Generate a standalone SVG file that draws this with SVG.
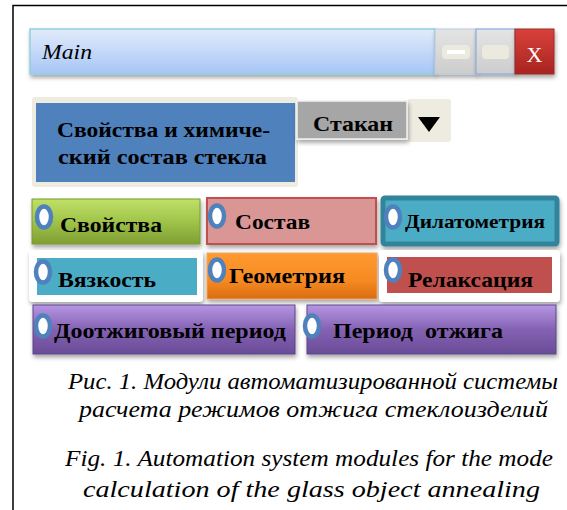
<svg xmlns="http://www.w3.org/2000/svg" width="567" height="510" viewBox="0 0 567 510">
<defs>
<style>
.lbl{font-family:"Liberation Serif","DejaVu Serif","Times New Roman",serif;font-weight:bold;fill:#000;}
.cap{font-family:"Liberation Serif","DejaVu Serif","Times New Roman",serif;font-style:italic;font-size:24px;fill:#000;}
.dot{fill:#fff;stroke:#4f81bd;stroke-width:4.5;}
</style>
<filter id="sh" x="-10%" y="-20%" width="125%" height="160%">
<feDropShadow dx="1" dy="3" stdDeviation="2" flood-color="#000" flood-opacity="0.35"/>
</filter>
<linearGradient id="gBar" x1="0" y1="0" x2="0" y2="1"><stop offset="0" stop-color="#e2ebfb"/><stop offset="1" stop-color="#a6c6f6"/></linearGradient>
<linearGradient id="gGrey" x1="0" y1="0" x2="0" y2="1"><stop offset="0" stop-color="#e4e4e4"/><stop offset="1" stop-color="#cdcdcd"/></linearGradient>
<linearGradient id="gRed" x1="0" y1="0" x2="0" y2="1"><stop offset="0" stop-color="#d9413b"/><stop offset="1" stop-color="#a82420"/></linearGradient>
<linearGradient id="gGreen" x1="0" y1="0" x2="0" y2="1"><stop offset="0" stop-color="#c0e068"/><stop offset="0.5" stop-color="#a0c44a"/><stop offset="1" stop-color="#7f9f33"/></linearGradient>
<linearGradient id="gOrange" x1="0" y1="0" x2="0" y2="1"><stop offset="0" stop-color="#ff9a30"/><stop offset="0.6" stop-color="#f68a22"/><stop offset="1" stop-color="#d96c10"/></linearGradient>
<linearGradient id="gPurple" x1="0" y1="0" x2="0" y2="1"><stop offset="0" stop-color="#b595e4"/><stop offset="0.5" stop-color="#8462b3"/><stop offset="1" stop-color="#6a4c97"/></linearGradient>
</defs>
<rect width="567" height="510" fill="#fff"/>
<g id="frame" fill="none" stroke="#000" stroke-width="1.5">
<path d="M13,510 V5.5 H567"/>
</g>
<g id="titlebar">
<rect x="30" y="29" width="405" height="45" fill="url(#gBar)" stroke="#93d0dc" stroke-width="1.5" filter="url(#sh)"/>
<text x="42" y="59" font-family="Liberation Serif, DejaVu Serif, serif" font-style="italic" font-size="22" fill="#000" textLength="50" lengthAdjust="spacingAndGlyphs">Main</text>
<rect x="435" y="29" width="41" height="45" fill="url(#gGrey)" stroke="#b7c9e2" stroke-width="1" filter="url(#sh)"/>
<rect x="442" y="45" width="28" height="14" rx="4" fill="#ece9df"/>
<rect x="447" y="50" width="18" height="4" fill="#fff"/>
<rect x="476" y="29" width="39" height="45" fill="url(#gGrey)" stroke="#8aaee0" stroke-width="1.2" filter="url(#sh)"/>
<rect x="482" y="45" width="27" height="14" rx="4" fill="#ece9df"/>
<rect x="515" y="29" width="39" height="45" fill="url(#gRed)" stroke="#9e2a26" stroke-width="1" filter="url(#sh)"/>
<text x="534.5" y="62" font-family="Liberation Serif, DejaVu Serif, serif" font-size="22" fill="#fff" text-anchor="middle">X</text>
</g>
<g id="glass-props">
<rect x="32" y="97" width="266" height="90" rx="3" fill="#eeece1"/>
<rect x="36" y="103" width="259" height="79" fill="#4f81bd"/>
<text class="lbl" font-size="22" x="57" y="137" textLength="213" lengthAdjust="spacingAndGlyphs">Свойства и химиче-</text>
<text class="lbl" font-size="22" x="58" y="164" textLength="209" lengthAdjust="spacingAndGlyphs">ский состав стекла</text>
</g>
<g id="stakan">
<rect x="407" y="99" width="44" height="43" rx="3" fill="#eeece1"/>
<path d="M418,117 H440 L429,132 Z" fill="#000"/>
<rect x="297" y="101" width="110" height="38" fill="#a6a6a6" stroke="#f2f2f2" stroke-width="1.5" filter="url(#sh)"/>
<text class="lbl" font-size="22" x="313" y="131" textLength="80" lengthAdjust="spacingAndGlyphs">Стакан</text>
</g>
<g id="svoistva">
<rect x="32" y="199" width="168" height="45" fill="url(#gGreen)" stroke="#7a9a30" stroke-width="1" filter="url(#sh)"/>
<ellipse class="dot" cx="44" cy="217" rx="7" ry="10.5"/>
<text class="lbl" font-size="22" x="60" y="232" textLength="102" lengthAdjust="spacingAndGlyphs">Свойства</text>
</g>
<g id="sostav">
<rect x="207" y="198" width="169" height="46" fill="#d99694" stroke="#c0504d" stroke-width="2" filter="url(#sh)"/>
<ellipse class="dot" cx="217" cy="216" rx="7" ry="10.5"/>
<text class="lbl" font-size="22" x="235" y="229" textLength="75" lengthAdjust="spacingAndGlyphs">Состав</text>
</g>
<g id="dilatometria">
<rect x="383" y="198" width="174" height="46" rx="2" fill="#4bacc6" stroke="#31849b" stroke-width="5" filter="url(#sh)"/>
<ellipse class="dot" cx="393" cy="217" rx="7" ry="10.5"/>
<text class="lbl" font-size="19" x="405" y="228" textLength="140" lengthAdjust="spacingAndGlyphs">Дилатометрия</text>
</g>
<g id="vyazkost">
<rect x="29" y="250" width="174" height="52" rx="4" fill="#fff" filter="url(#sh)"/>
<rect x="37" y="258" width="160" height="37" fill="#4bacc6"/>
<ellipse class="dot" cx="43" cy="272" rx="7" ry="10.5"/>
<text class="lbl" font-size="22" x="58" y="287" textLength="98" lengthAdjust="spacingAndGlyphs">Вязкость</text>
</g>
<g id="geometria">
<rect x="207" y="253" width="170" height="46" fill="url(#gOrange)" stroke="#f4a460" stroke-width="1" filter="url(#sh)"/>
<ellipse class="dot" cx="217" cy="270" rx="7" ry="10.5"/>
<text class="lbl" font-size="22" x="229" y="283" textLength="116" lengthAdjust="spacingAndGlyphs">Геометрия</text>
</g>
<g id="relaksacia">
<rect x="379" y="250" width="181" height="52" rx="4" fill="#fff" filter="url(#sh)"/>
<rect x="387" y="257" width="165" height="36" fill="#c0504d"/>
<ellipse class="dot" cx="393" cy="270" rx="7" ry="10.5"/>
<text class="lbl" font-size="22" x="408" y="287" textLength="125" lengthAdjust="spacingAndGlyphs">Релаксация</text>
</g>
<g id="dootzhig">
<rect x="33" y="305" width="262" height="49" fill="url(#gPurple)" stroke="#5f4687" stroke-width="1" filter="url(#sh)"/>
<ellipse class="dot" cx="43" cy="326" rx="7" ry="10.5"/>
<text class="lbl" font-size="22" x="54" y="338" textLength="232" lengthAdjust="spacingAndGlyphs">Доотжиговый период</text>
</g>
<g id="otzhig">
<rect x="307" y="305" width="249" height="49" fill="url(#gPurple)" stroke="#5f4687" stroke-width="1" filter="url(#sh)"/>
<ellipse class="dot" cx="312" cy="326" rx="7" ry="10.5"/>
<text class="lbl" font-size="22" x="333" y="338" textLength="170" lengthAdjust="spacingAndGlyphs" xml:space="preserve">Период  отжига</text>
</g>
<g id="caption">
<text class="cap" x="68" y="389" textLength="490" lengthAdjust="spacingAndGlyphs">Рис. 1. Модули автоматизированной системы</text>
<text class="cap" x="79" y="417" textLength="469" lengthAdjust="spacingAndGlyphs">расчета режимов отжига стеклоизделий</text>
<text class="cap" x="65" y="466" textLength="488" lengthAdjust="spacingAndGlyphs">Fig. 1. Automation system modules for the mode</text>
<text class="cap" x="83" y="497" textLength="457" lengthAdjust="spacingAndGlyphs">calculation of the glass object annealing</text>
</g>
</svg>
